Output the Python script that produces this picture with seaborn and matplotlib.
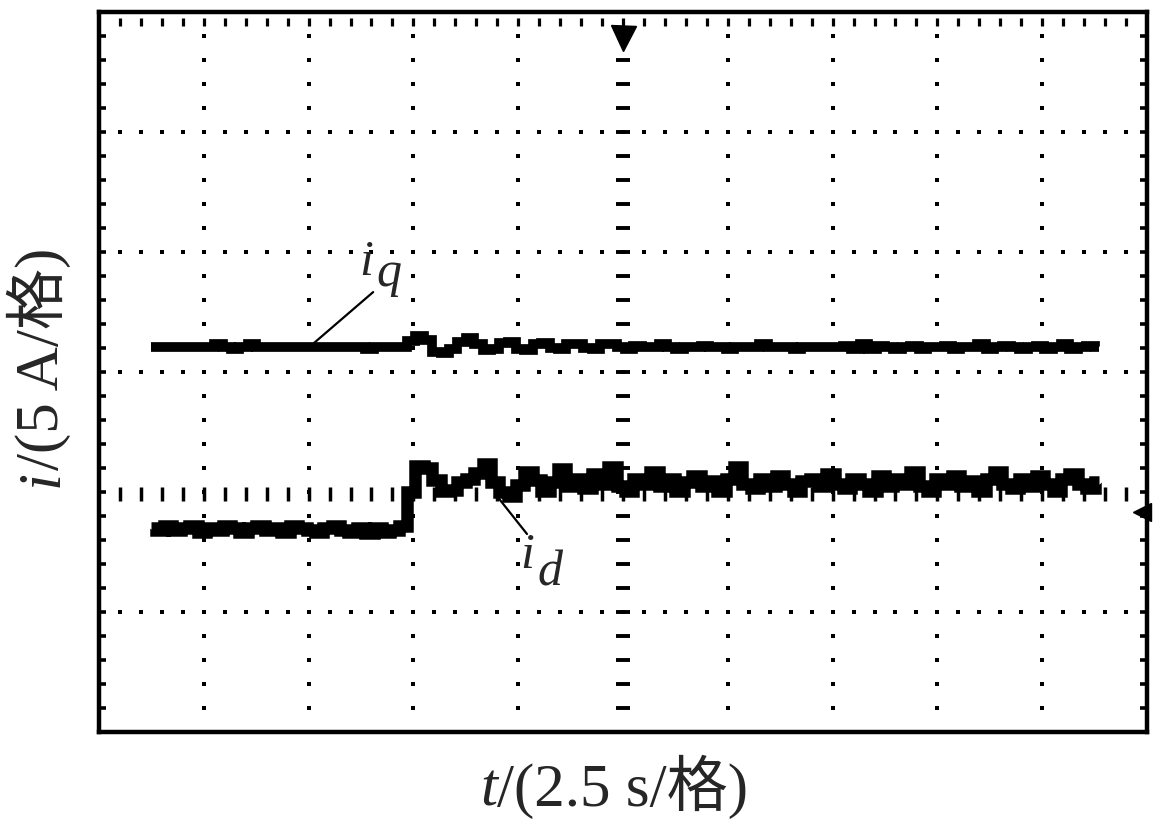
import numpy as np
import pandas as pd
import matplotlib
matplotlib.use("Agg")
import matplotlib.pyplot as plt
import seaborn as sns

# --- trace data ---
# samples every 0.2 s starting at 1.25 s, current in A (5 A per division)
t_start = 1.25
t_step = 0.2

iq_vals = [
    1.05, 1.05, 1.05, 1.05, 1.05, 1.05, 1.05, 1.05, 1.15, 1.05,
    0.95, 1.05, 1.15, 1.05, 1.05, 1.05, 1.05, 1.05, 1.05, 1.05,
    1.05, 1.05, 1.05, 1.05, 1.05, 1.05, 0.95, 1.05, 1.05, 1.05,
    1.05,
    # step at ~7.4 s
    1.3, 1.5, 1.35, 0.85, 0.8, 0.95, 1.25, 1.4, 1.15, 0.9,
    0.95, 1.2, 1.25, 0.95, 0.9, 1.15, 1.2, 1.0, 0.95, 1.15,
    1.15, 1.0, 0.95, 1.15, 1.15, 1.05, 0.95, 1.1, 1.05,
    1.05, 1.15, 1.05, 0.95, 1.05, 1.05, 1.1, 1.05, 1.05, 0.95,
    1.05, 1.05, 1.05, 1.15, 1.05, 1.05, 1.05, 0.95, 1.05, 1.05,
    1.05, 1.05, 1.05, 1.1, 0.95, 1.15, 0.95, 1.1, 1.05, 0.95,
    1.05, 1.1, 0.95, 1.05, 1.05, 1.1, 0.95, 1.05, 1.05, 1.15,
    0.95, 1.05, 1.1, 1.05, 0.95, 1.05, 1.1, 0.95, 1.05, 1.15,
    0.95, 1.05, 1.1, 1.05,
]

id_vals = [
    -6.5, -6.6, -6.4, -6.6, -6.5, -6.4, -6.65, -6.5, -6.6, -6.4,
    -6.5, -6.65, -6.5, -6.4, -6.6, -6.5, -6.65, -6.4, -6.5, -6.6,
    -6.65, -6.5, -6.4, -6.6, -6.65, -6.5, -6.7, -6.5, -6.65, -6.6,
    -6.4,
    # step at ~7.4 s
    -5.0, -3.9, -4.0, -4.5, -4.95, -4.9, -4.6, -4.45, -4.2, -3.85,
    -4.6, -5.0, -5.15, -4.7, -4.15, -4.5, -4.95, -4.6, -4.05, -4.75,
    -4.45, -4.85, -4.25, -4.65, -3.95, -4.75, -4.95, -4.45, -4.65, -4.15,
    -4.75, -4.45, -4.95, -4.6, -4.35, -4.75, -4.55, -4.95, -4.45, -3.95,
    -4.65, -4.85, -4.45, -4.75, -4.35, -4.65, -4.95, -4.55, -4.45, -4.75,
    -4.25, -4.65, -4.85, -4.45, -4.65, -4.95, -4.35, -4.75, -4.45, -4.65,
    -4.15, -4.75, -4.95, -4.45, -4.65, -4.35, -4.75, -4.55, -4.95, -4.45,
    -4.15, -4.65, -4.85, -4.45, -4.75, -4.35, -4.65, -4.95, -4.45, -4.25,
    -4.65, -4.85, -4.6,
]

# screen: 10 x 2.5 s horizontally, 6 x 5 A vertically
t_div = 2.5
i_div = 5.0
n_xdiv = 10
n_ydiv = 6

x_label = "/(2.5 s/格)"
y_label = "/(5 A/格)"

iq_df = pd.DataFrame({"t": t_start + t_step * np.arange(len(iq_vals)), "i": iq_vals})
id_df = pd.DataFrame({"t": t_start + t_step * np.arange(len(id_vals)), "i": id_vals})

sns.set_style("white")
plt.rcParams["font.family"] = ["Liberation Serif", "Noto Sans CJK SC"]

W, H = 1159, 835
fig = plt.figure(figsize=(W / 100, H / 100), dpi=100)
ax = fig.add_axes([99 / W, 1 - 732 / H, 1048 / W, 720 / H])

xmax = n_xdiv * t_div
ymax = n_ydiv * i_div / 2
ax.set_xlim(0, xmax)
ax.set_ylim(-ymax, ymax)

# graticule: dotted division lines
minor_x = np.arange(t_div / 5, xmax, t_div / 5)
minor_y = np.arange(-ymax + 1, ymax, 1.0)
dot = dict(ls="none", marker="s", ms=2.4, mew=0, color="k")
for gy in [-10, 0, 5, 10]:
    ax.plot(minor_x, np.full_like(minor_x, gy), **dot)
for gx in np.arange(t_div, xmax, t_div):
    if np.isclose(gx, xmax / 2):
        continue
    ax.plot(np.full_like(minor_y, gx), minor_y, **dot)
# centre line: short dashes
cy = minor_y[minor_y < 14]
ax.plot(np.full_like(cy, xmax / 2), cy, ls="none", marker="_", ms=9.5, mew=2.8, color="k")
# tick rows (top edge and channel level)
ax.plot(minor_x, np.full_like(minor_x, 14.58), ls="none", marker="|", ms=6, mew=2.3, color="k")
ax.plot(minor_x, np.full_like(minor_x, -5.1), ls="none", marker="|", ms=10, mew=2.5, color="k")
# trigger and channel markers
ax.plot([xmax / 2], [13.9], marker="v", ms=18, color="k", ls="none")
ax.plot([24.88], [-5.83], marker="<", ms=13, color="k", ls="none", clip_on=False)

# traces
sns.lineplot(data=iq_df, x="t", y="i", color="k", lw=7.0, estimator=None, sort=False,
             drawstyle="steps-mid", solid_capstyle="butt", solid_joinstyle="miter", ax=ax)
sns.lineplot(data=id_df, x="t", y="i", color="k", lw=9.0, estimator=None, sort=False,
             drawstyle="steps-mid", solid_capstyle="butt", solid_joinstyle="miter", ax=ax)

# trace labels with leader lines
lab = dict(fontsize=36, style="italic", ha="left", va="baseline")
ax.plot([5.13, 6.54], [1.21, 3.33], color="k", lw=1.6)
ax.text(6.20, 4.04, "i", **lab)
ax.text(6.62, 3.58, "q", **lab)
ax.plot([9.47, 10.21], [-5.12, -6.75], color="k", lw=1.6)
ax.text(10.05, -8.17, "i", **lab)
ax.text(10.45, -8.88, "d", **lab)

# frame
ax.set_xticks([])
ax.set_yticks(minor_y)
ax.set_yticklabels([])
ax.tick_params(axis="y", left=True, right=True, direction="in", length=5, width=2.6, color="k")
for s in ax.spines.values():
    s.set_visible(True)
    s.set_color("k")
    s.set_linewidth(3.2)
ax.set_xlabel("")
ax.set_ylabel("")

# axis titles: italic symbol + upright unit
fs = 44
fig.text(497 / W, 1 - 806 / H, "t", fontsize=fs, style="italic", ha="right", va="baseline")
fig.text(497 / W, 1 - 806 / H, x_label, fontsize=fs, ha="left", va="baseline")
fig.text(58 / W, 1 - 470 / H, "i", fontsize=fs, style="italic", rotation=90,
         rotation_mode="anchor", ha="right", va="baseline")
fig.text(58 / W, 1 - 470 / H, y_label, fontsize=fs, rotation=90,
         rotation_mode="anchor", ha="left", va="baseline")

fig.savefig("out.png", dpi=100)
